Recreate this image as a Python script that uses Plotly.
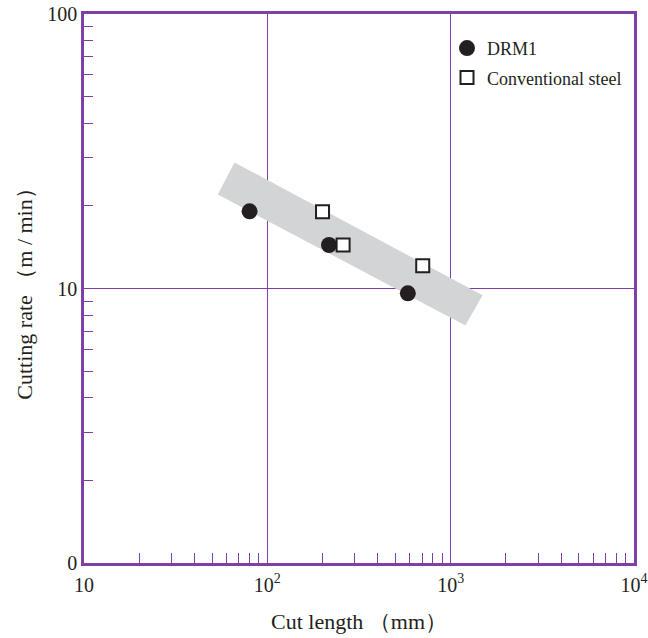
import plotly.graph_objects as go

# ---- data ----
drm1_x = [80, 217, 584]
drm1_y = [19.1, 14.4, 9.6]
conv_x = [200, 259, 704]
conv_y = [19.05, 14.4, 12.1]
band_x = [66.2, 1493, 1202, 53.7, 66.2]
band_y = [28.8, 9.45, 7.33, 22.0, 28.8]

x_tickvals = [10, 100, 1000, 10000]
x_ticktext = ["10", "10<sup>2</sup>", "10<sup>3</sup>", "10<sup>4</sup>"]
y_tickvals = [1, 10, 100]
y_ticktext = ["0", "10", "100"]

PURPLE = "#7E3FA6"
FONT = "Liberation Serif"

minor_x = [m * 10 ** k for k in (1, 2, 3) for m in range(2, 10)]
minor_y = [m * 10 ** k for k in (0, 1) for m in range(2, 10)]

fig = go.Figure()
fig.add_trace(go.Scatter(x=band_x, y=band_y, mode="lines", fill="toself",
                         fillcolor="#D3D4D6", line=dict(width=0),
                         showlegend=False, hoverinfo="skip"))
fig.add_trace(go.Scatter(x=drm1_x, y=drm1_y, mode="markers", name="DRM1",
                         legendgroup="a",
                         marker=dict(symbol="circle", size=16, color="#231F20")))
fig.add_trace(go.Scatter(x=conv_x, y=conv_y, mode="markers", name="Conventional steel",
                         legendgroup="b",
                         marker=dict(symbol="square", size=13, color="white",
                                     line=dict(color="#231F20", width=2))))

fig.update_layout(
    width=648, height=638,
    margin=dict(l=84, r=14, t=14, b=75),
    plot_bgcolor="white", paper_bgcolor="white",
    font=dict(family=FONT, size=20, color="#231F20"),
    legend=dict(x=0.66, y=0.971, xanchor="left", yanchor="top",
                bgcolor="rgba(0,0,0,0)", font=dict(size=18, family=FONT),
                itemsizing="trace", tracegroupgap=3),
    xaxis=dict(type="log", range=[1, 4], tickvals=x_tickvals, ticktext=x_ticktext,
               automargin=False, ticklabeloverflow="allow",
               showline=True, linecolor=PURPLE, linewidth=2.5, mirror=True,
               showgrid=True, gridcolor=PURPLE, gridwidth=1.3, zeroline=False,
               ticks="", tickfont=dict(size=20), ticklabelstandoff=2,
               minor=dict(tickvals=minor_x, ticks="inside", ticklen=10,
                          tickcolor=PURPLE, tickwidth=1.3, showgrid=False),
               title=dict(text="Cut length （mm）", font=dict(size=22), standoff=19)),
    yaxis=dict(type="log", range=[0, 2], tickvals=y_tickvals, ticktext=y_ticktext,
               automargin=False, ticklabeloverflow="allow",
               showline=True, linecolor=PURPLE, linewidth=2.5, mirror=True,
               showgrid=True, gridcolor=PURPLE, gridwidth=1.3, zeroline=False,
               ticks="", tickfont=dict(size=20), ticklabelstandoff=0,
               minor=dict(tickvals=minor_y, ticks="inside", ticklen=9,
                          tickcolor=PURPLE, tickwidth=1.3, showgrid=False),
               title=dict(text="Cutting rate （m / min）", font=dict(size=22), standoff=9)),
)

fig.write_html("out.html", config={"displayModeBar": False},
               post_script="document.body.style.margin='0';")
